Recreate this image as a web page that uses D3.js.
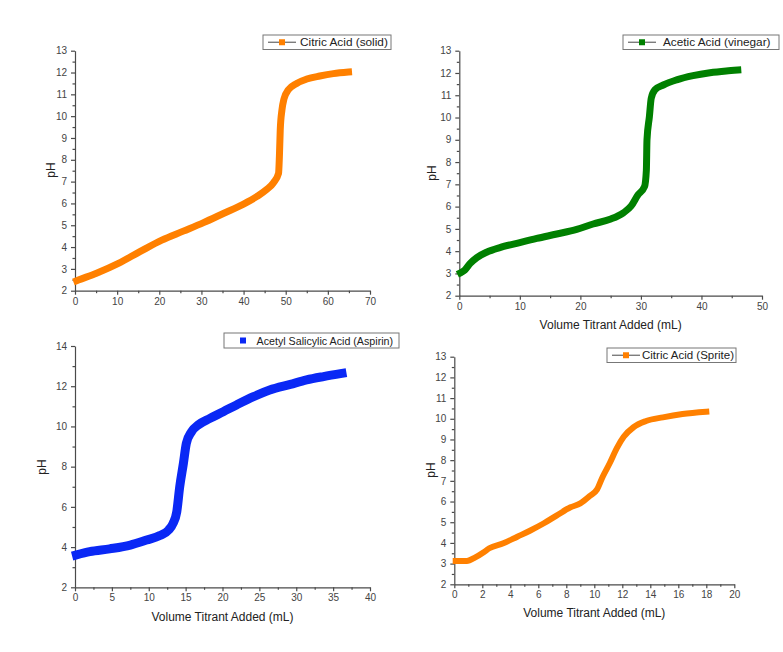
<!DOCTYPE html>
<html><head><meta charset="utf-8">
<script src="https://cdn.jsdelivr.net/npm/d3@7"></script>
<style>
body{margin:0;background:#fff;}
svg{display:block;font-family:"Liberation Sans",Arial,sans-serif;}
</style></head>
<body>
<svg id="chart" width="783" height="652"></svg>
<script>
// ---------- data ----------
const citricSolidVol = [0.4,0.8,5.1,10.3,15.4,20.6,25.7,30.5,35.2,40.0,43.1,45.5,47.1,48.3,48.5,48.7,49.1,49.6,50.6,52.6,55.0,58.1,61.3,64.9];
const citricSolidPH  = [2.46,2.49,2.80,3.25,3.79,4.32,4.73,5.12,5.54,5.97,6.31,6.64,6.95,7.38,8.14,9.36,10.28,10.80,11.20,11.50,11.70,11.84,11.95,12.02];

const aceticVol = [0.2,0.9,1.8,2.9,4.5,6.7,9.5,12.8,16.1,19.4,22.1,24.9,27.1,28.4,29.5,30.6,30.9,31.0,31.4,31.7,32.3,33.7,35.9,38.6,41.4,44.1,46.0];
const aceticPH  = [3.03,3.15,3.45,3.71,3.95,4.16,4.35,4.57,4.77,4.98,5.22,5.43,5.72,6.03,6.52,6.90,7.64,8.99,10.04,10.86,11.24,11.46,11.69,11.88,12.01,12.09,12.13];

const aspirinVol = [0.2,2.0,4.7,7.5,9.7,11.5,12.7,13.3,13.8,14.2,14.7,15.1,15.8,16.7,18.3,20.1,21.9,24.2,26.4,29.2,31.4,33.7,36.2];
const aspirinPH  = [3.61,3.77,3.91,4.10,4.35,4.57,4.85,5.18,5.76,7.00,8.17,9.16,9.74,10.07,10.40,10.73,11.07,11.48,11.81,12.09,12.31,12.48,12.64];

const spriteVol = [0.1,0.9,1.5,2.1,2.5,3.5,4.5,5.4,6.4,7.3,8.3,9.0,9.7,10.2,10.6,11.1,11.6,12.1,12.8,13.7,14.9,16.3,18.0];
const spritePH  = [3.13,3.13,3.30,3.55,3.74,3.98,4.30,4.59,4.95,5.32,5.72,5.91,6.28,6.59,7.20,7.85,8.57,9.13,9.59,9.89,10.07,10.23,10.34];

const ticksX1 = [0,10,20,30,40,50,60,70];
const ticksX2 = [0,10,20,30,40,50];
const ticksX3 = [0,5,10,15,20,25,30,35,40];
const ticksX4 = [0,2,4,6,8,10,12,14,16,18,20];
const ticksY13 = [2,3,4,5,6,7,8,9,10,11,12,13];
const ticksY14 = [2,4,6,8,10,12,14];

const legend1 = "Citric Acid (solid)";
const legend2 = "Acetic Acid (vinegar)";
const legend3 = "Acetyl Salicylic Acid (Aspirin)";
const legend4 = "Citric Acid (Sprite)";
const xTitle = "Volume Titrant Added (mL)";
const yTitle = "pH";

// ---------- drawing ----------
const svg = d3.select("#chart");
const axisColor = "#4a4a4a";
const textColor = "#444";

function panel(cfg){
  const g = svg.append("g");
  const x = d3.scaleLinear().domain(cfg.xDomain).range([cfg.left, cfg.right]);
  const y = d3.scaleLinear().domain(cfg.yDomain).range([cfg.bottom, cfg.top]);

  const xMinor = [];
  for(let i=0;i<cfg.xTicks.length-1;i++) xMinor.push((cfg.xTicks[i]+cfg.xTicks[i+1])/2);
  const yMinor = [];
  for(let i=0;i<cfg.yTicks.length-1;i++) yMinor.push((cfg.yTicks[i]+cfg.yTicks[i+1])/2);

  g.append("g").attr("transform",`translate(0,${cfg.bottom})`)
    .call(d3.axisBottom(x).tickValues(cfg.xTicks).tickSize(4).tickPadding(3).tickSizeOuter(0));
  g.append("g").attr("transform",`translate(0,${cfg.bottom})`)
    .call(d3.axisBottom(x).tickValues(xMinor).tickSize(2.5).tickFormat("").tickSizeOuter(0))
    .select(".domain").remove();
  g.append("g").attr("transform",`translate(${cfg.left},0)`)
    .call(d3.axisLeft(y).tickValues(cfg.yTicks).tickSize(4).tickPadding(4).tickSizeOuter(0));
  g.append("g").attr("transform",`translate(${cfg.left},0)`)
    .call(d3.axisLeft(y).tickValues(yMinor).tickSize(2.5).tickFormat("").tickSizeOuter(0))
    .select(".domain").remove();

  g.selectAll(".domain").attr("stroke",axisColor).attr("stroke-width",1.2);
  g.selectAll(".tick line").attr("stroke",axisColor).attr("stroke-width",1.2);
  g.selectAll(".tick text").attr("fill",textColor).attr("font-size",10)
    .attr("font-family","'Liberation Sans',Arial,sans-serif");

  const pts = cfg.xs.map((v,i)=>[v,cfg.ys[i]]);
  const line = d3.line().x(d=>x(d[0])).y(d=>y(d[1])).curve(d3.curveMonotoneX);
  g.append("path").datum(pts).attr("d",line)
    .attr("fill","none").attr("stroke",cfg.color).attr("stroke-width",cfg.width)
    .attr("stroke-linecap","square").attr("stroke-linejoin","round");

  g.append("text").attr("transform",`translate(${cfg.yTitleX},${cfg.yTitleY}) rotate(-90)`)
    .attr("text-anchor","middle").attr("dy","0.35em").attr("font-size",12).attr("fill","#222").text(yTitle);
  if(cfg.xTitle){
    g.append("text").attr("x",(cfg.left+cfg.right)/2).attr("y",cfg.xTitleY)
      .attr("text-anchor","middle").attr("font-size",12).attr("fill","#222").text(cfg.xTitle);
  }

  const L = cfg.legend;
  g.append("rect").attr("x",L.x0).attr("y",L.y0).attr("width",L.x1-L.x0).attr("height",L.y1-L.y0)
    .attr("fill","#fff").attr("stroke","#777").attr("stroke-width",1);
  const cy = (L.y0+L.y1)/2;
  if(L.line){
    g.append("line").attr("x1",L.x0+5).attr("x2",L.x0+33).attr("y1",cy).attr("y2",cy)
      .attr("stroke","#666").attr("stroke-width",1.2);
  }
  g.append("rect").attr("x",L.x0+19-3).attr("y",cy-3).attr("width",6).attr("height",6).attr("fill",cfg.color);
  g.append("text").attr("x",L.tx).attr("y",cy+4).attr("font-size",L.fs).attr("fill","#222").text(L.text);
}

panel({left:75,right:370,top:50.7,bottom:290.7,xDomain:[0,70],yDomain:[2,13],
  xTicks:ticksX1,yTicks:ticksY13,xs:citricSolidVol,ys:citricSolidPH,color:"#FF8000",width:7,
  yTitleX:51,yTitleY:170,xTitle:null,
  legend:{x0:263,x1:391,y0:35,y1:49.5,tx:300,fs:11.8,text:legend1,line:true}});

panel({left:459.3,right:762,top:50.7,bottom:295.7,xDomain:[0,50],yDomain:[2,13],
  xTicks:ticksX2,yTicks:ticksY13,xs:aceticVol,ys:aceticPH,color:"#008000",width:7,
  yTitleX:432,yTitleY:173,xTitle:xTitle,xTitleY:329,
  legend:{x0:623,x1:779,y0:35,y1:49.5,tx:663,fs:11.8,text:legend2,line:true}});

panel({left:75,right:370,top:346,bottom:587.3,xDomain:[0,40],yDomain:[2,14],
  xTicks:ticksX3,yTicks:ticksY14,xs:aspirinVol,ys:aspirinPH,color:"#0A28F5",width:9,
  yTitleX:42,yTitleY:467,xTitle:xTitle,xTitleY:621,
  legend:{x0:224,x1:399,y0:333,y1:348,tx:256.5,fs:10.7,text:legend3,line:false}});

panel({left:454.3,right:734.3,top:356.7,bottom:584.3,xDomain:[0,20],yDomain:[2,13],
  xTicks:ticksX4,yTicks:ticksY13,xs:spriteVol,ys:spritePH,color:"#FF8000",width:6,
  yTitleX:431,yTitleY:470,xTitle:xTitle,xTitleY:617,
  legend:{x0:607,x1:736,y0:348,y1:362.5,tx:642,fs:11.5,text:legend4,line:true}});
</script>
</body></html>
